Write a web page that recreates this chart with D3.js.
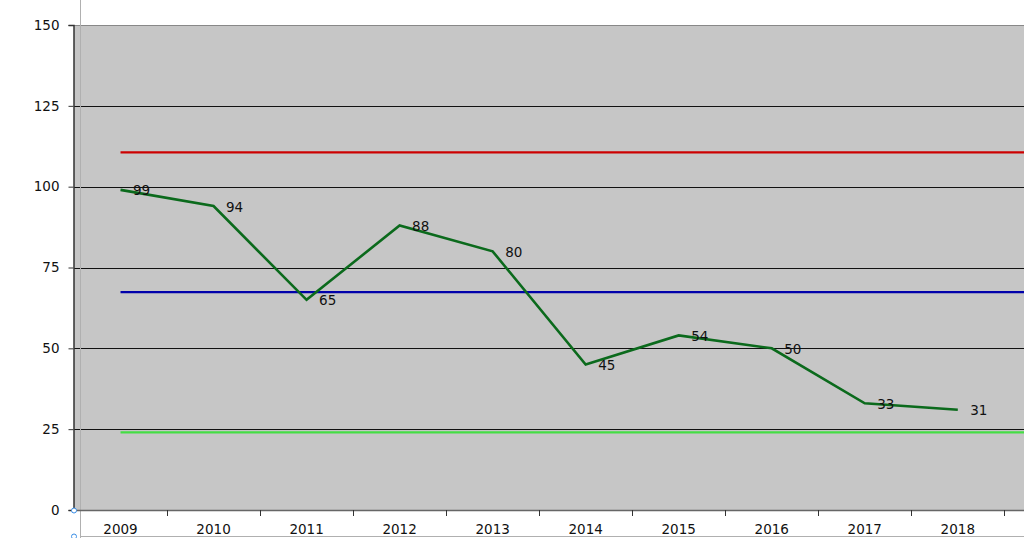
<!DOCTYPE html>
<html><head><meta charset="utf-8">
<script src="https://cdn.jsdelivr.net/npm/d3@7"></script>
<style>html,body{margin:0;padding:0;background:#fff;}svg{display:block;}</style>
</head><body>
<svg id="c" width="1024" height="538"></svg>
<script>
const years = ["2009","2010","2011","2012","2013","2014","2015","2016","2017","2018"];
const values = [99,94,65,88,80,45,54,50,33,31];
const yTicks = [0,25,50,75,100,125,150];
const refValues = [110.6, 67.4, 24.0];
const refColors = ["#cc0000", "#0000aa", "#44dd44"];

(function(){
const svg = d3.select("#c");
const W = 1024, H = 538;
const mLeft = 74, mTop = 25, mBottom = 510;
const step = 93.03;
const x = d3.scaleBand().domain(years).range([mLeft, mLeft + step*years.length]).paddingInner(0).paddingOuter(0);
const y = d3.scaleLinear().domain([0,150]).range([mBottom, mTop]);
const font = "DejaVu Sans, Verdana, sans-serif";
const fs = 13.5;

svg.append("rect").attr("x", mLeft).attr("y", mTop).attr("width", W-mLeft+20).attr("height", mBottom-mTop)
  .attr("fill", "#c6c6c6");
svg.append("line").attr("x1", mLeft).attr("x2", W).attr("y1", mTop+0.5).attr("y2", mTop+0.5)
  .attr("stroke", "#888").attr("stroke-width", 1);

svg.append("g").selectAll("line").data(yTicks.filter(d => d>0 && d<150)).join("line")
  .attr("x1", mLeft).attr("x2", W).attr("y1", d => Math.round(y(d))+0.5).attr("y2", d => Math.round(y(d))+0.5)
  .attr("stroke", "#111").attr("stroke-width", 1);

svg.append("line").attr("x1", 80.5).attr("x2", 80.5).attr("y1", 0).attr("y2", H).attr("stroke", "#b0b0b0");
svg.append("line").attr("x1", 80).attr("x2", W).attr("y1", 536.5).attr("y2", 536.5).attr("stroke", "#b0b0b0");

const yAxis = d3.axisLeft(y).tickValues(yTicks).tickSize(5).tickPadding(9);
const gy = svg.append("g").attr("transform", `translate(${mLeft-0.5},0)`).call(yAxis);
gy.select(".domain").attr("stroke", "#333").attr("stroke-width", 1.5);
gy.selectAll(".tick line").attr("stroke", "#333");
gy.selectAll(".tick text").attr("font-family", font).attr("font-size", fs).attr("fill", "#111");

const xAxis = d3.axisBottom(x).tickSize(0).tickPadding(14);
const gx = svg.append("g").attr("transform", `translate(0,${mBottom+0.5})`).call(xAxis);
gx.select(".domain").remove();
gx.selectAll(".tick text").attr("font-family", font).attr("font-size", fs).attr("fill", "#111");
svg.append("line").attr("x1", mLeft).attr("x2", W).attr("y1", mBottom+0.5).attr("y2", mBottom+0.5)
  .attr("stroke", "#666").attr("stroke-width", 1.5);
svg.append("g").selectAll("line").data(years).join("line")
  .attr("x1", d => Math.round(x(d)+x.bandwidth())+0.5).attr("x2", d => Math.round(x(d)+x.bandwidth())+0.5)
  .attr("y1", mBottom).attr("y2", mBottom+6).attr("stroke", "#333");

const cx = d => x(d) + x.bandwidth()/2;
svg.append("g").selectAll("line").data(refValues).join("line")
  .attr("x1", cx(years[0])).attr("x2", W).attr("y1", d => y(d)).attr("y2", d => y(d))
  .attr("stroke", (d,i) => refColors[i]).attr("stroke-width", 2.2);

const pts = years.map((yr,i) => ({yr, v: values[i]}));
svg.append("path").datum(pts)
  .attr("d", d3.line().x(d => cx(d.yr)).y(d => y(d.v)))
  .attr("fill", "none").attr("stroke", "#0b6a1c").attr("stroke-width", 2.6).attr("stroke-linejoin", "miter");

svg.append("g").selectAll("text").data(pts).join("text")
  .attr("x", d => cx(d.yr) + 12.5).attr("y", d => y(d.v) + 5.5)
  .attr("font-family", font).attr("font-size", fs).attr("fill", "#111")
  .text(d => d.v);

svg.append("g").selectAll("circle").data([510.5, 536.5]).join("circle")
  .attr("cx", 74).attr("cy", d => d).attr("r", 2.5)
  .attr("fill", "#fff").attr("stroke", "#3a8ee6").attr("stroke-width", 1);
})();
</script>
</body></html>
